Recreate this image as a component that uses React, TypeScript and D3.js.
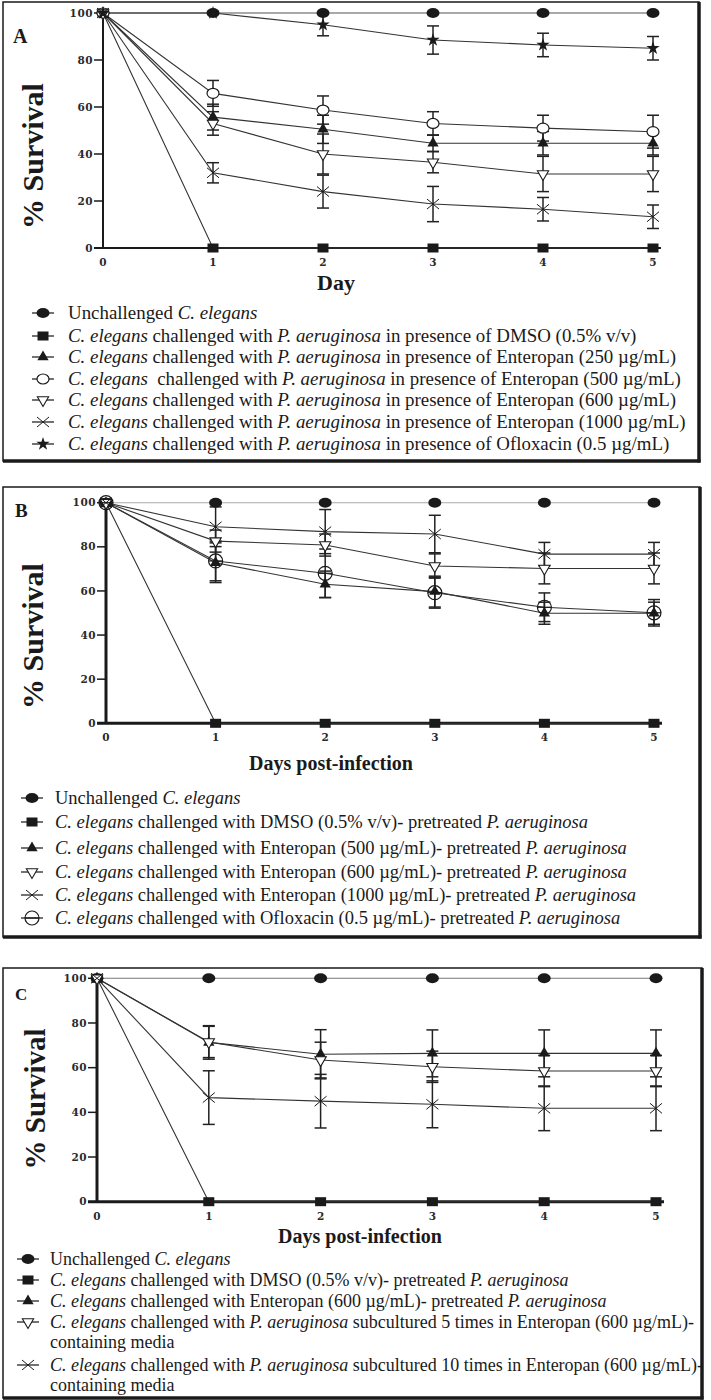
import * as d3 from 'd3';

const days = [0, 1, 2, 3, 4, 5];
const yTicks = [0, 20, 40, 60, 80, 100];

// Panel A
const aUnchallenged = [100, 100, 100, 100, 100, 100];
const aDmso = [100, 0, 0, 0, 0, 0];
const aEnt250 = [100, 55.7, 50.5, 44.6, 44.6, 44.6];
const aEnt250Err = [0, 5.5, 6, 3.5, 5, 5];
const aEnt500 = [100, 65.8, 58.7, 53, 51, 49.5];
const aEnt500Err = [0, 5.5, 6, 5, 5.5, 7];
const aEnt600 = [100, 53, 40, 36.5, 31.5, 31.5];
const aEnt600Err = [0, 5, 8.5, 4.5, 7.5, 7.5];
const aEnt1000 = [100, 32, 24, 18.7, 16.5, 13.3];
const aEnt1000Err = [0, 4.3, 7, 7.5, 5, 5];
const aOflox = [100, 100, 95, 88.5, 86.4, 85];
const aOfloxErr = [0, 0, 4.7, 6, 5, 5];

// Panel B
const bUnchallenged = [100, 100, 100, 100, 100, 100];
const bDmso = [100, 0, 0, 0, 0, 0];
const bEnt500 = [100, 72.8, 63, 59.7, 49.9, 49.9];
const bEnt500Err = [0, 9, 6, 7, 5, 5];
const bEnt600 = [100, 82.6, 80.8, 71.3, 70.2, 70.2];
const bEnt600Err = [0, 5, 5, 5.5, 7, 7];
const bEnt1000 = [100, 89.1, 86.9, 85.8, 76.7, 76.7];
const bEnt1000Err = [0, 9, 10, 8.5, 5.3, 5.3];
const bOflox = [100, 73.6, 68, 59.2, 52.6, 50.1];
const bOfloxErr = [0, 9, 11, 7, 6.5, 6];

// Panel C
const cUnchallenged = [100, 100, 100, 100, 100, 100];
const cDmso = [100, 0, 0, 0, 0, 0];
const cEnt600 = [100, 71.3, 66, 66.4, 66.4, 66.4];
const cEnt600Err = [0, 7.5, 11, 10.5, 10.5, 10.5];
const cSub5 = [100, 71.5, 63.4, 60.4, 58.5, 58.5];
const cSub5Err = [0, 7, 8, 7, 7, 7];
const cSub10 = [100, 46.6, 45, 43.6, 41.8, 41.8];
const cSub10Err = [0, 12, 12, 10.5, 10, 10];

type Seg = [string, boolean];
const CE: Seg = ['C. elegans', true];
const PA: Seg = ['P. aeruginosa', true];

const aLegend: Seg[][] = [
  [['Unchallenged ', false], CE],
  [CE, [' challenged with ', false], PA, [' in presence of DMSO (0.5% v/v)', false]],
  [CE, [' challenged with ', false], PA, [' in presence of Enteropan (250 µg/mL)', false]],
  [CE, ['  challenged with ', false], PA, [' in presence of Enteropan (500 µg/mL)', false]],
  [CE, [' challenged with ', false], PA, [' in presence of Enteropan (600 µg/mL)', false]],
  [CE, [' challenged with ', false], PA, [' in presence of Enteropan (1000 µg/mL)', false]],
  [CE, [' challenged with ', false], PA, [' in presence of Ofloxacin (0.5 µg/mL)', false]],
];
const bLegend: Seg[][] = [
  [['Unchallenged ', false], CE],
  [CE, [' challenged with DMSO (0.5% v/v)- pretreated ', false], PA],
  [CE, [' challenged with Enteropan (500 µg/mL)- pretreated ', false], PA],
  [CE, [' challenged with Enteropan (600 µg/mL)- pretreated ', false], PA],
  [CE, [' challenged with Enteropan (1000 µg/mL)- pretreated ', false], PA],
  [CE, [' challenged with Ofloxacin (0.5 µg/mL)- pretreated ', false], PA],
];
const cLegend: Seg[][] = [
  [['Unchallenged ', false], CE],
  [CE, [' challenged with DMSO (0.5% v/v)- pretreated ', false], PA],
  [CE, [' challenged with Enteropan (600 µg/mL)- pretreated ', false], PA],
  [CE, [' challenged with ', false], PA, [' subcultured 5 times in Enteropan (600 µg/mL)-', false]],
  [CE, [' challenged with ', false], PA, [' subcultured 10 times in Enteropan (600 µg/mL)-', false]],
];

type Mk = 'dot' | 'square' | 'tri' | 'circle' | 'dtri' | 'x' | 'star' | 'theta';

const serif = '"Liberation Serif", "Times New Roman", serif';
const ink = '#1a1a1a';

function Marker({ kind, x, y }: { kind: Mk; x: number; y: number }) {
  const t = `translate(${x},${y})`;
  switch (kind) {
    case 'dot':
      return <ellipse cx={x} cy={y} rx={6.5} ry={5} fill={ink} />;
    case 'square':
      return <rect x={x - 5.5} y={y - 4.5} width={11} height={9} fill={ink} />;
    case 'tri':
      return <path transform={t} d={d3.symbol(d3.symbolTriangle, 55)()!} fill={ink} />;
    case 'circle':
      return <ellipse cx={x} cy={y} rx={6} ry={5} fill="#fff" stroke={ink} strokeWidth={1.2} />;
    case 'dtri':
      return (
        <path transform={`${t} rotate(180)`} d={d3.symbol(d3.symbolTriangle, 55)()!}
          fill="#fff" stroke={ink} strokeWidth={1.1} />
      );
    case 'x':
      return <path transform={t} d="M-6,-5L6,5M-6,5L6,-5" stroke={ink} strokeWidth={1} fill="none" />;
    case 'star':
      return <path transform={t} d={d3.symbol(d3.symbolStar, 55)()!} fill={ink} />;
    case 'theta':
      return (
        <g transform={t}>
          <circle r={7} fill="none" stroke={ink} strokeWidth={1.2} />
          <line x1={-7} x2={7} y1={0} y2={0} stroke={ink} strokeWidth={1.2} />
        </g>
      );
  }
}

interface Series {
  values: number[];
  err?: number[];
  marker: Mk;
  color?: string;
}

interface PanelProps {
  box: [number, number, number, number];
  px: [number, number];
  py: [number, number];
  letter: string;
  letterPos: [number, number, number];
  ylabelPos: [number, number, number];
  xlabel: string;
  xlabelPos: [number, number, number];
  axisWidth: number;
  series: Series[];
  legend: Seg[][];
  legendMarkers: Mk[];
  legendY: number[];
  legendX: [number, number];
  legendSize: number;
  wrapLines?: { y: number; text: string }[];
}

function Panel(p: PanelProps) {
  const x = d3.scaleLinear().domain([0, 5]).range(p.px);
  const y = d3.scaleLinear().domain([0, 100]).range([p.py[1], p.py[0]]);
  const line = d3.line<number>().x((_, i) => x(days[i])).y((v) => y(v));
  const [bx0, by0, bx1, by1] = p.box;
  return (
    <g>
      {/* frame: thin top/left, heavy right/bottom */}
      <rect x={bx0} y={by0} width={bx1 - bx0} height={by1 - by0} fill="#fff" stroke={ink} strokeWidth={1.5} />
      <line x1={bx1} x2={bx1} y1={by0} y2={by1 + 1.5} stroke={ink} strokeWidth={3.5} />
      <line x1={bx0} x2={bx1 + 1.5} y1={by1} y2={by1} stroke={ink} strokeWidth={3.5} />

      <text x={p.letterPos[0]} y={p.letterPos[1]} fontSize={p.letterPos[2]} fontFamily={serif} fontWeight="bold" fill={ink}>
        {p.letter}
      </text>
      <text transform={`translate(${p.ylabelPos[0]},${p.ylabelPos[1]}) rotate(-90)`} textAnchor="middle"
        dominantBaseline="central" fontSize={p.ylabelPos[2]} fontFamily={serif} fontWeight="bold" fill={ink}>
        % Survival
      </text>

      {/* axes */}
      <line x1={x(0)} x2={x(0)} y1={y(100)} y2={y(0)} stroke={ink} strokeWidth={p.axisWidth} />
      <line x1={x(0) - 9} x2={x(5) + 8} y1={y(0)} y2={y(0)} stroke={ink} strokeWidth={p.axisWidth} />
      {yTicks.map((t) => (
        <g key={t}>
          <line x1={x(0) - 9} x2={x(0)} y1={y(t)} y2={y(t)} stroke={ink} strokeWidth={1.5} />
          <text x={x(0) - 10} y={y(t)} dy="0.35em" textAnchor="end" fontSize={10.5} fontWeight="bold"
            fontFamily='"DejaVu Serif", serif' fill="#2a2a2a" letterSpacing={0.5}>
            {t}
          </text>
        </g>
      ))}
      {days.map((d) => (
        <text key={d} x={x(d)} y={y(0) + 18} textAnchor="middle" fontSize={10.5} fontWeight="bold"
          fontFamily='"DejaVu Serif", serif' fill="#2a2a2a">
          {d}
        </text>
      ))}
      <text x={p.xlabelPos[0]} y={p.xlabelPos[1]} textAnchor="middle" fontSize={p.xlabelPos[2]}
        fontFamily={serif} fontWeight="bold" fill={ink}>
        {p.xlabel}
      </text>

      {/* series lines */}
      {p.series.map((s, i) => (
        <path key={`l${i}`} d={line(s.values)!} fill="none" stroke={s.color ?? '#333'} strokeWidth={1.1} />
      ))}
      {/* error bars */}
      {p.series.map((s, i) =>
        (s.err ?? []).map((e, j) =>
          e > 0 ? (
            <g key={`e${i}-${j}`} stroke="#222" strokeWidth={1.5}>
              <line x1={x(days[j])} x2={x(days[j])} y1={y(s.values[j] + e)} y2={y(s.values[j] - e)} />
              <line x1={x(days[j]) - 6} x2={x(days[j]) + 6} y1={y(s.values[j] + e)} y2={y(s.values[j] + e)} />
              <line x1={x(days[j]) - 6} x2={x(days[j]) + 6} y1={y(s.values[j] - e)} y2={y(s.values[j] - e)} />
            </g>
          ) : null
        )
      )}
      {/* markers */}
      {p.series.map((s, i) =>
        s.values.map((v, j) => <Marker key={`m${i}-${j}`} kind={s.marker} x={x(days[j])} y={y(v)} />)
      )}

      {/* legend */}
      {p.legend.map((row, i) => (
        <g key={`lg${i}`}>
          <line x1={p.legendX[0] - 11} x2={p.legendX[0] + 11} y1={p.legendY[i]} y2={p.legendY[i]} stroke="#444" strokeWidth={1.5} />
          <Marker kind={p.legendMarkers[i]} x={p.legendX[0]} y={p.legendY[i]} />
          <text x={p.legendX[1]} y={p.legendY[i]} dy="0.33em" fontSize={p.legendSize} fontFamily={serif} fill={ink}
            xmlSpace="preserve">
            {row.map(([txt, it], k) => (
              <tspan key={k} fontStyle={it ? 'italic' : 'normal'}>{txt}</tspan>
            ))}
          </text>
        </g>
      ))}
      {(p.wrapLines ?? []).map((w, i) => (
        <text key={`w${i}`} x={p.legendX[1]} y={w.y} dy="0.33em" fontSize={p.legendSize} fontFamily={serif} fill={ink}>
          {w.text}
        </text>
      ))}
    </g>
  );
}

export default function App() {
  return (
    <svg width={711} height={1400} viewBox="0 0 711 1400" style={{ display: 'block', position: 'absolute', left: 0, top: 0 }}>
      <rect width={711} height={1400} fill="#fff" />
      <Panel
        box={[3, 2, 699, 461]}
        px={[103, 653]}
        py={[13, 248]}
        letter="A"
        letterPos={[13, 43, 20]}
        ylabelPos={[32, 156, 30]}
        xlabel="Day"
        xlabelPos={[336, 290, 22]}
        axisWidth={2}
        series={[
          { values: aUnchallenged, marker: 'dot', color: '#555' },
          { values: aDmso, marker: 'square' },
          { values: aEnt250, err: aEnt250Err, marker: 'tri' },
          { values: aEnt500, err: aEnt500Err, marker: 'circle' },
          { values: aEnt600, err: aEnt600Err, marker: 'dtri' },
          { values: aEnt1000, err: aEnt1000Err, marker: 'x' },
          { values: aOflox, err: aOfloxErr, marker: 'star' },
        ]}
        legend={aLegend}
        legendMarkers={['dot', 'square', 'tri', 'circle', 'dtri', 'x', 'star']}
        legendY={[313, 336, 357, 379, 400, 422, 444]}
        legendX={[43, 68]}
        legendSize={18.9}
      />
      <Panel
        box={[3, 487, 700, 937]}
        px={[106, 654]}
        py={[502.7, 723.3]}
        letter="B"
        letterPos={[15, 517, 19]}
        ylabelPos={[32, 636, 30]}
        xlabel="Days post-infection"
        xlabelPos={[331, 770, 20]}
        axisWidth={3}
        series={[
          { values: bUnchallenged, marker: 'dot', color: '#aaa' },
          { values: bDmso, marker: 'square' },
          { values: bEnt500, err: bEnt500Err, marker: 'tri' },
          { values: bEnt600, err: bEnt600Err, marker: 'dtri' },
          { values: bEnt1000, err: bEnt1000Err, marker: 'x' },
          { values: bOflox, err: bOfloxErr, marker: 'theta' },
        ]}
        legend={bLegend}
        legendMarkers={['dot', 'square', 'tri', 'dtri', 'x', 'theta']}
        legendY={[798, 822, 848, 872, 895, 918]}
        legendX={[32, 55]}
        legendSize={18.5}
      />
      <Panel
        box={[3, 968, 702, 1398]}
        px={[97, 656]}
        py={[978.3, 1201.7]}
        letter="C"
        letterPos={[15, 1000, 17]}
        ylabelPos={[35, 1099, 29]}
        xlabel="Days post-infection"
        xlabelPos={[360, 1243, 20]}
        axisWidth={3}
        series={[
          { values: cUnchallenged, marker: 'dot', color: '#777' },
          { values: cDmso, marker: 'square' },
          { values: cEnt600, err: cEnt600Err, marker: 'tri' },
          { values: cSub5, err: cSub5Err, marker: 'dtri' },
          { values: cSub10, err: cSub10Err, marker: 'x' },
        ]}
        legend={cLegend}
        legendMarkers={['dot', 'square', 'tri', 'dtri', 'x']}
        legendY={[1259, 1280, 1301, 1322, 1365]}
        legendX={[28, 50]}
        legendSize={18}
        wrapLines={[
          { y: 1342, text: 'containing media' },
          { y: 1385, text: 'containing media' },
        ]}
      />
    </svg>
  );
}
